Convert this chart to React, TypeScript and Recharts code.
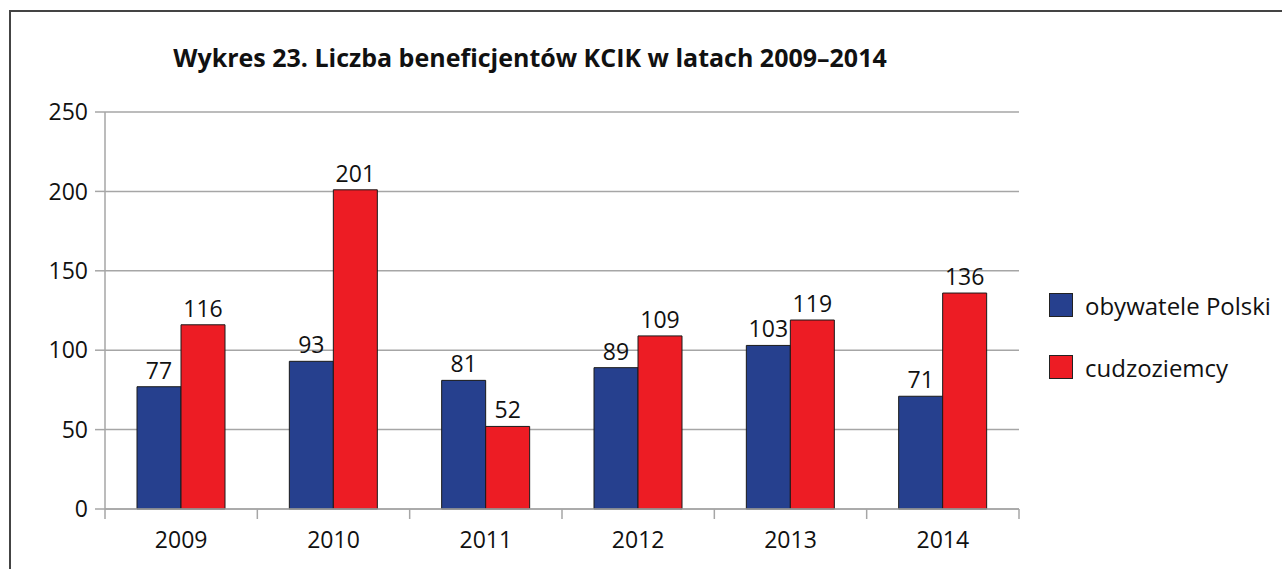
import React from "react";
import { BarChart, Bar, XAxis, YAxis, CartesianGrid, LabelList } from "recharts";

const years = ["2009", "2010", "2011", "2012", "2013", "2014"];
const polish = [77, 93, 81, 89, 103, 71];
const foreigners = [116, 201, 52, 109, 119, 136];
const yTicks = [0, 50, 100, 150, 200, 250];
const seriesNames = ["obywatele Polski", "cudzoziemcy"];
const title = "Wykres 23. Liczba beneficjentów KCIK w latach 2009–2014";

const data = years.map((y, i) => ({ year: y, polish: polish[i], foreigners: foreigners[i] }));

const W = 1282;
const H = 569;
const X_H = 30;
const M = { top: 112, right: 263, left: 40, bottom: 30 };
const Y_W = 65;
const PLOT_W = W - M.left - M.right - Y_W;
const BAND = PLOT_W / years.length;
const FONT = "'Open Sans', 'Noto Sans', sans-serif";
const BLUE = "#26408E";
const RED = "#ED1C24";
const GRID = "#A6A6A6";
const FS = 23;

const XTick = (props: any) => {
  const { x, y, payload, index } = props;
  const left = x - BAND / 2;
  const right = x + BAND / 2;
  return (
    <g>
      <line x1={left} x2={left} y1={y - 8} y2={y + 2} stroke={GRID} strokeWidth={1.5} />
      {index === years.length - 1 && (
        <line x1={right} x2={right} y1={y - 8} y2={y + 2} stroke={GRID} strokeWidth={1.5} />
      )}
      <text x={x} y={y + 31} textAnchor="middle" fontSize={FS} fill="#111" fontFamily={FONT}>
        {payload.value}
      </text>
    </g>
  );
};

const LegendBox = () => {
  const colors = [BLUE, RED];
  return (
    <div style={{ position: "absolute", left: 1049, top: 274, width: 233, fontFamily: FONT }}>
      {seriesNames.map((n, i) => (
        <div key={n} style={{ display: "flex", alignItems: "center", height: 62 }}>
          <div style={{ width: 22, height: 22, background: colors[i], border: "1px solid #222", marginRight: 12, flexShrink: 0 }} />
          <span style={{ fontSize: 24, color: "#111", whiteSpace: "nowrap" }}>{n}</span>
        </div>
      ))}
    </div>
  );
};

export default function App() {
  return (
    <div style={{ position: "absolute", left: 0, top: 0, width: W, height: H, background: "#fff", overflow: "hidden" }}>
      <div
        style={{
          position: "absolute",
          left: 9,
          top: 10,
          width: W,
          height: H,
          borderTop: "2px solid #444",
          borderLeft: "2px solid #444",
        }}
      />
      <div
        style={{
          position: "absolute",
          left: 0,
          top: 40,
          width: 1060,
          textAlign: "center",
          fontFamily: FONT,
          fontWeight: 700,
          fontSize: 25,
          color: "#111",
          whiteSpace: "nowrap",
        }}
      >
        {title}
      </div>
      <div style={{ position: "absolute", left: 0, top: 0 }}>
        <BarChart width={W} height={H} data={data} margin={M} barGap={0} barCategoryGap={32}>
          <CartesianGrid vertical={false} stroke={GRID} strokeWidth={1.5} />
          <XAxis
            dataKey="year"
            height={X_H}
            axisLine={{ stroke: GRID, strokeWidth: 1.5 }}
            tickLine={false}
            tick={<XTick />}
            interval={0}
          />
          <YAxis
            width={Y_W}
            domain={[0, 250]}
            ticks={yTicks}
            axisLine={{ stroke: GRID, strokeWidth: 1.5 }}
            tickLine={{ stroke: GRID, strokeWidth: 1.5 }}
            tickSize={10}
            tickMargin={7}
            tick={{ fontSize: FS, fill: "#111", fontFamily: FONT }}
          />
          <Bar dataKey="polish" name={seriesNames[0]} fill={BLUE} stroke="#1a1a1a" strokeWidth={1} isAnimationActive={false}>
            <LabelList dataKey="polish" position="top" offset={8} fontSize={FS} fill="#111" fontFamily={FONT} />
          </Bar>
          <Bar dataKey="foreigners" name={seriesNames[1]} fill={RED} stroke="#1a1a1a" strokeWidth={1} isAnimationActive={false}>
            <LabelList dataKey="foreigners" position="top" offset={8} fontSize={FS} fill="#111" fontFamily={FONT} />
          </Bar>
        </BarChart>
      </div>
      <LegendBox />
    </div>
  );
}
